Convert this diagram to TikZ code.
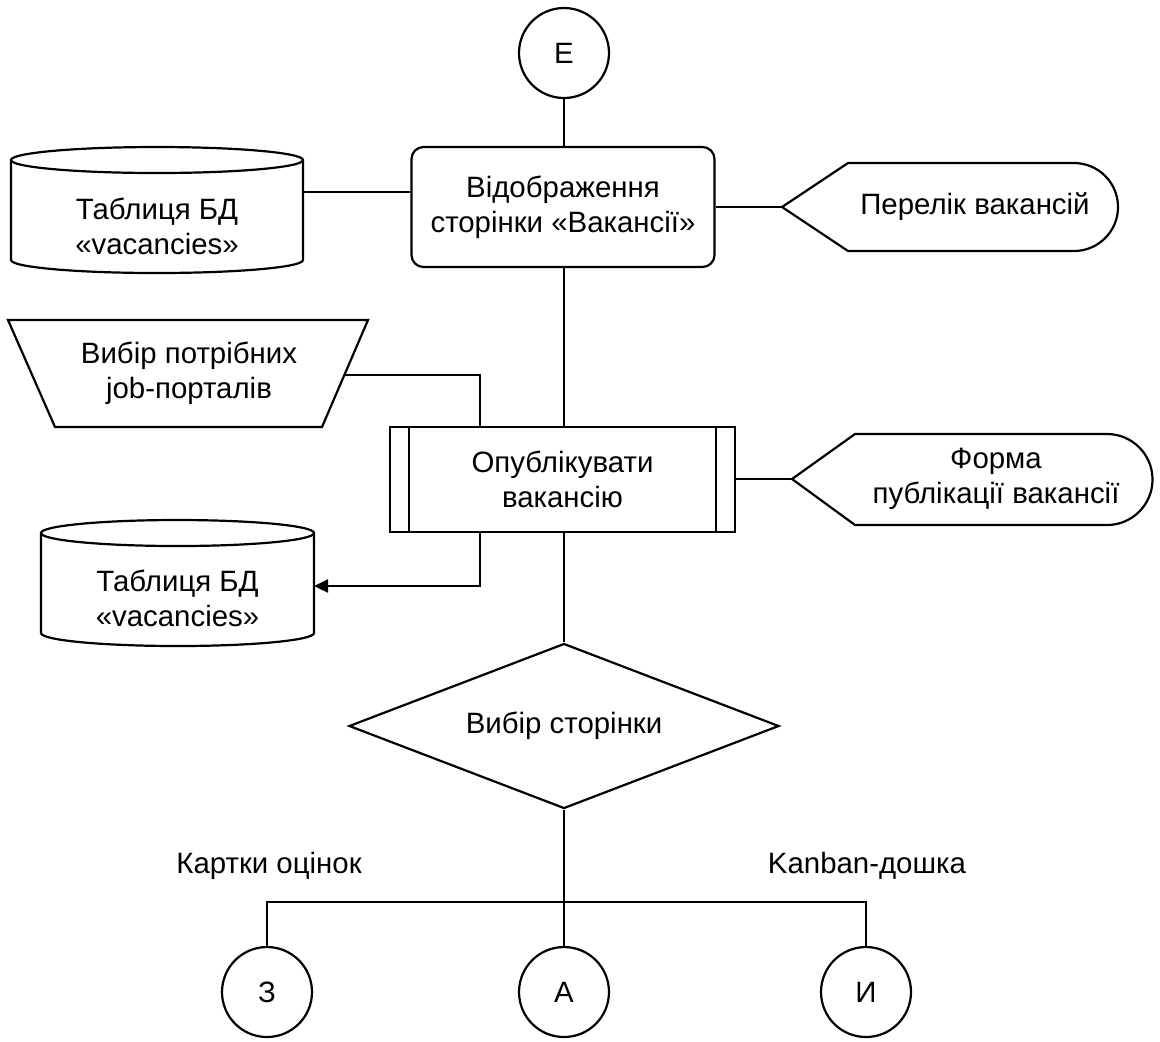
\documentclass[tikz,border=0pt]{standalone}
\usepackage{fontspec}
\setmainfont{Liberation Sans}
\usetikzlibrary{shapes.geometric,arrows.meta}

\begin{document}
\begin{tikzpicture}[x=0.5pt,y=-0.5pt,
  line width=1.1pt,
  every node/.style={font=\fontsize{14.7}{17.5}\selectfont, align=center, inner sep=0pt},
  connector/.style={circle, draw, minimum size=45pt},
  procbox/.style={rectangle, draw, rounded corners=6pt, minimum width=151.5pt, minimum height=60pt},
  subbox/.style={rectangle, draw, minimum width=172.5pt, minimum height=52.5pt},
  decision/.style={diamond, draw, minimum width=215pt, minimum height=82.5pt, aspect=2.6},
  arrowtip/.style={-{Triangle[length=7pt,width=6.5pt]}}
]
\useasboundingbox (0,0) rectangle (1160,1041);

% --- main column
\node[connector] (e) at (564,53) {Е};
\node[procbox] (proc) at (563,207) {Відображення\\сторінки «Вакансії»};
\node[subbox] (sub) at (562.5,479.5) {Опублікувати\\вакансію};
\draw ([xshift=10pt]sub.north west) -- ([xshift=10pt]sub.south west);
\draw ([xshift=-10pt]sub.north east) -- ([xshift=-10pt]sub.south east);
\node[decision] (dec) at (564,726) {Вибір сторінки};

% --- data store: vacancies table (top)
\draw (11,160) -- (11,260) arc[start angle=180, end angle=0, x radius=146, y radius=13] -- (303,160);
\draw (157,160) ellipse [x radius=146, y radius=13];
\node (db1) at (157,226) {Таблиця БД\\«vacancies»};
\coordinate (db1e) at (303,192);

% --- display: list of vacancies
\draw (782,207) -- (848,163) -- (1074,163) arc[start angle=-90, end angle=90, x radius=44, y radius=44] -- (848,251) -- cycle;
\node (disp1) at (975,207) {Перелік вакансій};
\coordinate (disp1w) at (782,207);

% --- manual input: job portals
\draw (8,320) -- (368,320) -- (322,427) -- (55,427) -- cycle;
\node (inp) at (189,373) {Вибір потрібних\\job-порталів};
\coordinate (inpe) at (344,375);

% --- display: publication form
\draw (792,479) -- (855,434) -- (1107,434) arc[start angle=-90, end angle=90, x radius=45.5, y radius=45.5] -- (855,525) -- cycle;
\node (disp2) at (996,479) {Форма\\публікації вакансії};
\coordinate (disp2w) at (792,479);

% --- data store: vacancies table (bottom)
\draw (41,533) -- (41,633) arc[start angle=180, end angle=0, x radius=136.5, y radius=13] -- (314,533);
\draw (177.5,533) ellipse [x radius=136.5, y radius=13];
\node (db2) at (177.5,598) {Таблиця БД\\«vacancies»};
\coordinate (db2e) at (314,586);

% --- off-page connectors
\node[connector] (cz) at (267,992) {З};
\node[connector] (ca) at (564,992) {А};
\node[connector] (ci) at (866,992) {И};
\node (lz) at (269,866) {Картки оцінок};
\node (li) at (867,866) {Kanban-дошка};
\coordinate (split) at (564,902);

% --- connectors
\draw (e.south) -- (proc.north -| e.south);
\draw (db1e) -- (db1e -| proc.west);
\draw (proc.east |- disp1w) -- (disp1w);
\draw (proc.south -| e.south) -- (sub.north -| e.south);
\draw (inpe) -| (480,0 |- sub.north);
\draw (sub.east |- disp2w) -- (disp2w);
\draw[arrowtip] (480,0 |- sub.south) |- (db2e);
\draw (sub.south -| e.south) -- (dec.north);
\draw (dec.south) -- (ca.north);
\draw (cz.north) |- (split) -| (ci.north);
\end{tikzpicture}
\end{document}
